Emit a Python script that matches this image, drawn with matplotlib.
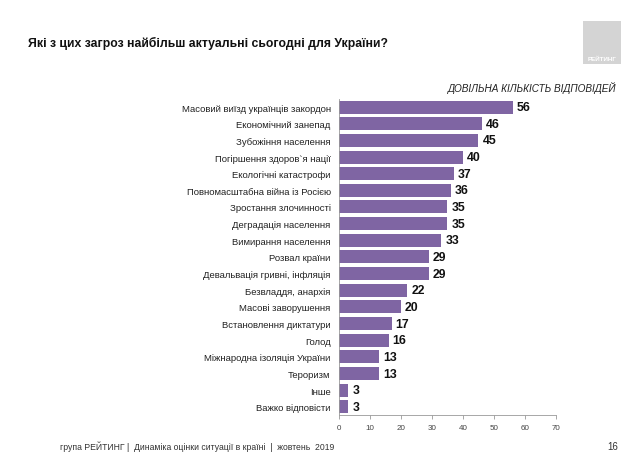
import matplotlib.pyplot as plt
from matplotlib.patches import Rectangle

plt.rcParams['font.family'] = ['Liberation Sans', 'DejaVu Sans']

categories = [
    'Масовий виїзд українців закордон',
    'Економічний занепад',
    'Зубожіння населення',
    'Погіршення здоров`я нації',
    'Екологічні катастрофи',
    'Повномасштабна війна із Росією',
    'Зростання злочинності',
    'Деградація населення',
    'Вимирання населення',
    'Розвал країни',
    'Девальвація гривні, інфляція',
    'Безвладдя, анархія',
    'Масові заворушення',
    'Встановлення диктатури',
    'Голод',
    'Міжнародна ізоляція України',
    'Тероризм',
    'Інше',
    'Важко відповісти',
]
values = [56, 46, 45, 40, 37, 36, 35, 35, 33, 29, 29, 22, 20, 17, 16, 13, 13, 3, 3]
xticks = [0, 10, 20, 30, 40, 50, 60, 70]

bar_color = '#7F65A3'

fig = plt.figure(figsize=(6.38, 4.56), dpi=100)
ax = fig.add_axes([0.5313, 0.0871, 0.3401, 0.6943])

pos = list(range(len(categories)))
ax.barh(pos, values, height=0.78, color=bar_color)
for p, v in zip(pos, values):
    ax.text(v + 1.3, p, str(v), va='center', ha='left',
            fontsize=8.8, fontweight='bold', color='#111111')

ax.set_ylim(len(categories) - 0.5, -0.5)
ax.set_xlim(0, 70)
ax.set_yticks(pos)
ax.set_yticklabels(categories, fontsize=6.8, color='#222222')
ax.set_xticks(xticks)
ax.set_xticklabels([str(t) for t in xticks], fontsize=5.8, color='#444444')
ax.tick_params(axis='y', length=0, pad=6)
ax.tick_params(axis='x', length=3, width=0.6, color='#999999', pad=3)
for s in ['top', 'right']:
    ax.spines[s].set_visible(False)
ax.spines['left'].set_color('#999999')
ax.spines['left'].set_linewidth(0.6)
ax.spines['bottom'].set_color('#999999')
ax.spines['bottom'].set_linewidth(0.6)

fig.text(28 / 638, 1 - 43 / 456, 'Які з цих загроз найбільш актуальні сьогодні для України?',
         fontsize=8.8, fontweight='bold', va='center', ha='left', color='#111111')
fig.text(616 / 638, 1 - 88 / 456, 'ДОВІЛЬНА КІЛЬКІСТЬ ВІДПОВІДЕЙ',
         fontsize=7.2, fontstyle='italic', va='center', ha='right', color='#222222')
fig.text(60 / 638, 1 - 447 / 456,
         'група РЕЙТИНГ |  Динаміка оцінки ситуації в країні  |  жовтень  2019',
         fontsize=6.2, va='center', ha='left', color='#333333')
fig.text(618 / 638, 1 - 447 / 456, '16', fontsize=7, va='center', ha='right', color='#333333')

# logo box
fig.patches.append(Rectangle((583 / 638, 1 - 65 / 456), 38 / 638, 43 / 456,
                             transform=fig.transFigure, facecolor='#d4d4d4',
                             edgecolor='none'))
fig.text(602 / 638, 1 - 59 / 456, 'РЕЙТИНГ', fontsize=4.5, fontweight='bold',
         color='white', ha='center', va='center')

fig.savefig('out.png', dpi=100)
